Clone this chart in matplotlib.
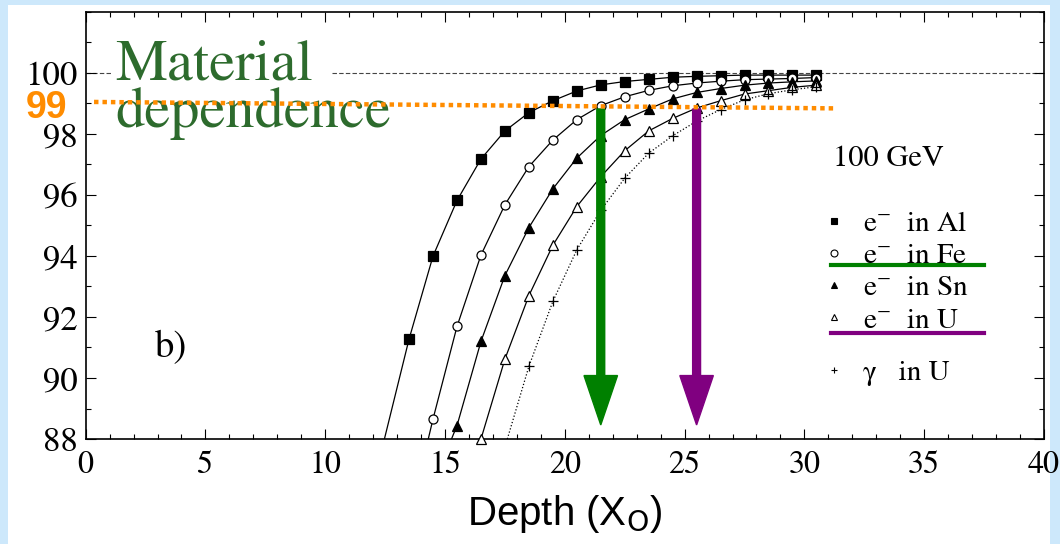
import matplotlib
matplotlib.use("Agg")
import matplotlib.pyplot as plt
from matplotlib.lines import Line2D
from matplotlib.patches import FancyArrow, Rectangle

plt.rcParams['font.family'] = ['STIXGeneral', 'DejaVu Serif']
plt.rcParams['mathtext.fontset'] = 'stix'

# depth in radiation lengths, containment in %
depth_al = [13.5, 14.5, 15.5, 16.5, 17.5, 18.5, 19.5, 20.5, 21.5, 22.5, 23.5, 24.5,
            25.5, 26.5, 27.5, 28.5, 29.5, 30.5]
cont_al = [91.28, 94.0, 95.82, 97.18, 98.1, 98.7, 99.09, 99.41, 99.61, 99.72, 99.79,
           99.86, 99.89, 99.91, 99.93, 99.93, 99.93, 99.93]

depth_fe = [14.5, 15.5, 16.5, 17.5, 18.5, 19.5, 20.5, 21.5, 22.5, 23.5, 24.5, 25.5,
            26.5, 27.5, 28.5, 29.5, 30.5]
cont_fe = [88.66, 91.69, 94.03, 95.68, 96.93, 97.8, 98.47, 98.93, 99.22, 99.43, 99.58,
           99.67, 99.73, 99.78, 99.8, 99.82, 99.85]

depth_sn = [15.5, 16.5, 17.5, 18.5, 19.5, 20.5, 21.5, 22.5, 23.5, 24.5, 25.5, 26.5,
            27.5, 28.5, 29.5, 30.5]
cont_sn = [88.44, 91.2, 93.36, 94.93, 96.2, 97.21, 97.95, 98.47, 98.82, 99.15, 99.36,
           99.49, 99.6, 99.67, 99.71, 99.74]

depth_u = [16.5, 17.5, 18.5, 19.5, 20.5, 21.5, 22.5, 23.5, 24.5, 25.5, 26.5, 27.5,
           28.5, 29.5, 30.5]
cont_u = [88.0, 90.62, 92.7, 94.35, 95.62, 96.6, 97.45, 98.1, 98.51, 98.85, 99.09,
          99.31, 99.42, 99.53, 99.6]

depth_gu = [18.5, 19.5, 20.5, 21.5, 22.5, 23.5, 24.5, 25.5, 26.5, 27.5, 28.5, 29.5, 30.5]
cont_gu = [90.38, 92.51, 94.2, 95.5, 96.55, 97.37, 97.94, 98.42, 98.8, 99.12, 99.32,
           99.45, 99.55]

# depth where each fitted curve leaves the 88 % floor
onset = [12.47, 14.3, 15.27, 16.5, 17.6]

labels = [r'e$^{-}$  in Al', r'e$^{-}$  in Fe', r'e$^{-}$  in Sn', r'e$^{-}$  in U',
          u'\u03b3   in U']

# 99 % line and the depths where it is reached
line99 = ([0.35, 31.2], [99.05, 98.84])
x99_fe, x99_u = 21.5, 25.5

fig = plt.figure(figsize=(10.6, 5.44), dpi=100, facecolor='#cde8fb')
fig.patches.append(Rectangle((8 / 1060, 0), 1042 / 1060, 539 / 544,
                             transform=fig.transFigure, facecolor='white',
                             edgecolor='none', zorder=-10))
ax = fig.add_axes([0.0808, 0.193, 0.9041, 0.785])
ax.set_zorder(1)

series = [(depth_al, cont_al, 's', 'k', '-'),
          (depth_fe, cont_fe, 'o', 'white', '-'),
          (depth_sn, cont_sn, '^', 'k', '-'),
          (depth_u, cont_u, '^', 'white', '-'),
          (depth_gu, cont_gu, '+', 'k', ':')]
for (d, c, m, fc, ls), x0 in zip(series, onset):
    ax.plot([x0] + d, [88.0] + c, color='k', lw=0.9, ls=ls, zorder=2)
    ax.plot(d, c, ls='none', marker=m, ms=6.5, mfc=fc, mec='k', mew=0.9,
            color='k', clip_on=False, zorder=3)

# 100 % reference line (broken behind the text)
ax.hlines(100, 0, 1.1, colors='#444444', lw=0.8, linestyles=(0, (4, 2)), zorder=1)
ax.hlines(100, 10.3, 40, colors='#444444', lw=0.8, linestyles=(0, (4, 2)), zorder=1)

# orange 99 % line
ax.plot(*line99, color='#ff8c00', lw=3.2, ls=(0, (1, 0.9)), zorder=6)
ax.text(-2.5, 98.85, '99', color='#ff8c00', fontsize=27, fontweight='bold',
        family='Liberation Sans', ha='left', va='center', clip_on=False, zorder=6)

# vertical arrows
for xa, col in [(x99_fe, '#008000'), (x99_u, '#800080')]:
    ax.add_patch(FancyArrow(xa, 98.82, 0, 88.46 - 98.82, width=0.33,
                            head_width=1.4, head_length=1.62,
                            length_includes_head=True, color=col, zorder=5))

ax.text(1.22, 99.8, 'Material', color='#2d6b2d', fontsize=42, va='baseline', zorder=4)
ax.text(1.22, 98.22, 'dependence', color='#2d6b2d', fontsize=42, va='baseline', zorder=4)
ax.text(2.9, 90.7, 'b)', fontsize=28, va='baseline')
ax.text(31.2, 96.94, '100 GeV', fontsize=22, va='baseline')

# legend
handles = [Line2D([], [], ls='none', marker=s[2], ms=5, mfc=s[3], mec='k', mew=0.8)
           for s in series]
leg_kw = dict(loc='upper left', frameon=False, fontsize=21, handlelength=0.6,
              handletextpad=0.7, borderpad=0, borderaxespad=0)
leg1 = ax.legend(handles[:4], labels[:4], bbox_to_anchor=(0.772, 0.535),
                 labelspacing=0.2, **leg_kw)
ax.add_artist(leg1)
ax.legend(handles[4:], labels[4:], bbox_to_anchor=(0.772, 0.185), **leg_kw)
ax.plot([31.13, 37.48], [93.72, 93.72], color='#008000', lw=3, clip_on=False)
ax.plot([31.13, 37.48], [91.48, 91.48], color='#800080', lw=3, clip_on=False)

ax.set_xlim(0, 40)
ax.set_ylim(88, 102)
ax.set_xticks(range(0, 41, 5))
ax.set_xticks(range(0, 41, 1), minor=True)
ax.set_yticks(range(88, 101, 2))
ax.set_yticks(range(88, 103, 1), minor=True)
ax.tick_params(which='both', direction='in', top=True, right=True,
               width=0.8, pad=8)
ax.tick_params(axis='x', labelsize=23)
ax.tick_params(axis='y', labelsize=25, pad=6)
ax.tick_params(which='major', length=7)
ax.tick_params(which='minor', length=3.5)
for sp in ax.spines.values():
    sp.set_linewidth(1.2)

ax.set_xlabel(r'Depth (X$_{\mathrm{O}}$)', family='Liberation Sans', fontsize=29,
              labelpad=10, math_fontfamily='dejavusans')

fig.savefig('out.png', dpi=100, facecolor=fig.get_facecolor())
